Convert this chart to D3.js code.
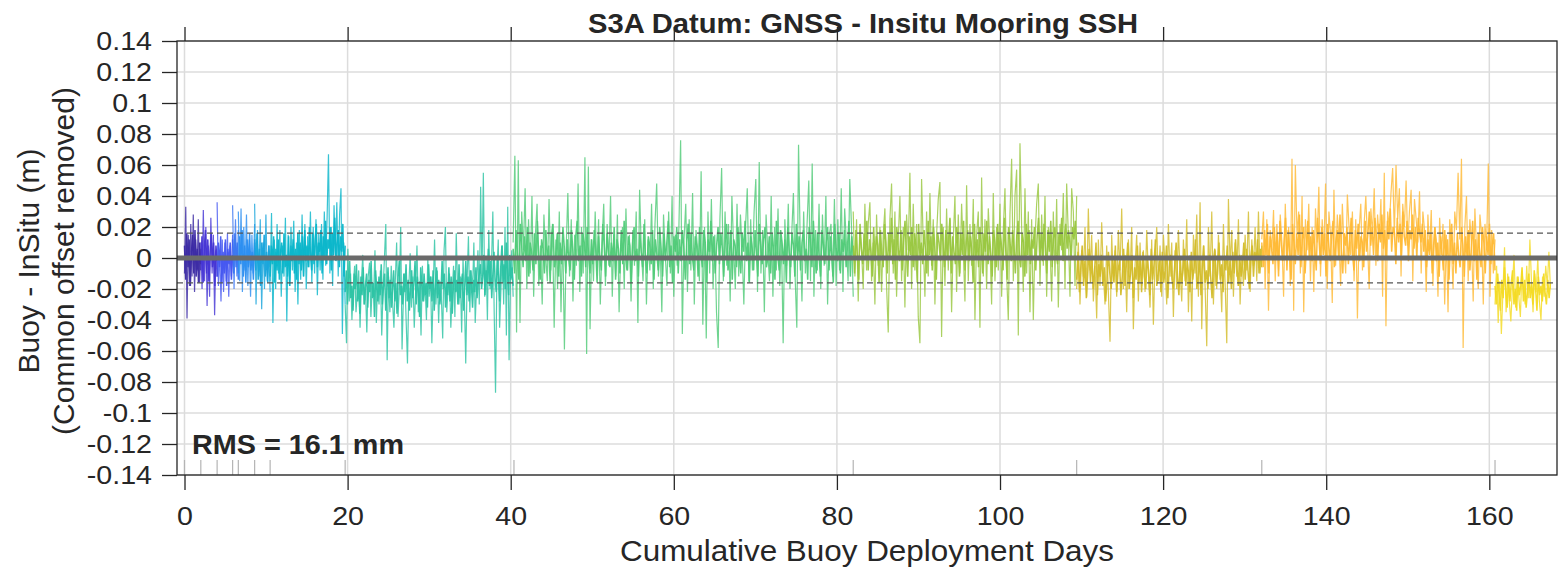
<!DOCTYPE html>
<html><head><meta charset="utf-8">
<script src="https://cdn.jsdelivr.net/npm/d3@7"></script>
<style>
body{margin:0;background:#fff;}
svg{display:block;font-family:"Liberation Sans",Arial,Helvetica,sans-serif;}
</style>
</head><body>
<svg id="chart" width="1559" height="569"></svg>
<script>
// ---------- DATA ----------
const titleText = "S3A Datum: GNSS - Insitu Mooring SSH";
const xLabelText = "Cumulative Buoy Deployment Days";
const yLabelLines = ["Buoy - InSitu (m)", "(Common offset removed)"];
const rmsText = "RMS = 16.1 mm";
const rmsMeters = 0.0161;

const xTicks = [0, 20, 40, 60, 80, 100, 120, 140, 160];
const xTickLabels = ["0", "20", "40", "60", "80", "100", "120", "140", "160"];
const yTicks = [-0.14, -0.12, -0.1, -0.08, -0.06, -0.04, -0.02, 0, 0.02, 0.04, 0.06, 0.08, 0.1, 0.12, 0.14];
const yTickLabels = ["-0.14", "-0.12", "-0.1", "-0.08", "-0.06", "-0.04", "-0.02", "0", "0.02", "0.04", "0.06", "0.08", "0.1", "0.12", "0.14"];

// deployment start / end (cumulative days)
const segStart = [0, 2.0, 4.0, 5.9, 6.6, 8.6, 10.5, 19.7, 40.3, 82.0, 109.4, 132.1, 160.7];
const segEnd   = [2.0, 4.0, 5.9, 6.6, 8.6, 10.5, 19.7, 40.3, 82.0, 109.4, 132.1, 160.7, 167.5];
const deployMarks = [0, 2.0, 4.0, 5.9, 6.6, 8.6, 10.5, 19.7, 40.4, 82.0, 109.4, 132.1, 160.7];

// residual peaks per deployment (mm), evenly sampled over each deployment
const seg01 = [-10, 33, -39, 15, -18, 22, -12, 28, -22, 12, -8, 25, -16, 6];
const seg02 = [10, -20, 31, -15, 20, -31, 8, -25, 26, -10, 15, -37, 5, -12];
const seg03 = [36, -18, 5, -28, 12, -22, 10, -15, 16, -25, 8, -12, 15];
const seg04 = [34, -20, 25, -12, 18];
const seg05 = [30, -15, 32, -22, 20, -8, 28, -18, 12, -25, 15, -10, 22];
const seg06 = [35, -30, 18, -12, 25, -33, 10, -20, 28, -15, 8, -22];
const seg07 = [-15, 29, -42, 12, -20, 22, -10, 18, -25, 8, -12, 26, -41, 15, -18, 20, -8, 24, -22, 10,
  -30, 18, -14, 28, -12, 22, -20, 14, -6, 30, -16, 20, -10, 25, -24, 16, -8, 22, -14, 30,
  -5, 26, 67, -10, 20, -18, 34, 2, 36, -12, 28, 45, -49, 10, -30];
const seg08 = [-30, -55, 6, -28, -10, -40, -18, -5, -35, -22,
  -8, -45, -15, 2, -30, -20, -48, -12, -3, -38,
  -18, -25, 5, -42, -15, -30, -8, -50, -20, 0,
  22, -66, -12, -35, -5, -28, -45, -15, 10, -38,
  -20, 20, -59, -25, -10, -40, -68, -18, 3, -32,
  -12, -45, -22, 8, -35, -15, -50, -5, -28, -18,
  -40, 0, -25, -12, -55, -20, 12, -30, -8, -42,
  -15, -25, -52, 5, 20, -35, -18, -10, -45, -22,
  -5, -38, 16, -20, -30, -12, -48, 0, -25, -68,
  -15, 14, -35, -8, -22, 10, -42, -18, 5, -30,
  46, -12, 55, -25, 0, -40, 18, -20, -5, 30,
  -35, -87, -10, 12, -45, -20, 8, -30, 20, -50,
  33, -66, -15, 5, -25];
const seg09 = [10, 66, -48, 63, -42, 30, 5, 45, -20, 25,
  -10, 40, -25, 15, 35, -18, 8, -30, 28, 2,
  -15, 38, -8, 22, -45, 12, -20, 30, -35, 18,
  -59, 5, 42, -12, 25, -28, 15, -5, 48, -22,
  20, -10, 65, -62, 59, -46, 12, -15, 30, -8,
  25, -30, 10, 35, -18, 22, -5, 40, -25, 15,
  -12, 28, -35, 8, 20, -20, 32, -8, 15, -28,
  18, -5, 30, -42, 44, 5, -15, 25, -30, 12,
  -8, 35, -20, 22, 48, -12, 10, -35, 28, 2,
  -18, 30, -10, 40, -25, 15, -5, 20, 76, -49,
  12, 35, -22, 25, -8, 42, -30, 18, 5, -15,
  56, -43, 20, -52, 30, -10, 38, -20, 15, -35,
  -58, 25, 58, -15, 30, -5, 22, -28, 40, 8,
  -20, 35, -12, 28, 5, -30, 20, 45, -15, 25,
  -8, 30, 51, -22, 62, -10, 18, -35, 28, 5,
  -15, 40, -25, 20, -8, 32, -18, 12, -55, 25,
  -5, 35, -20, 15, 42, -12, -45, 73, 10, -28,
  30, -10, 22, 50, -15, 61, -25, 18, -8, 35,
  -20, 28, -5, 40, -30, 15, 22, -12, 38, -18,
  25, -8, 45, -22, 32, 10, -15, 51, 20, -25];
const seg10 = [30, -12, 25, -28, 18, 5, -20, 35, -8, 22,
  36, -15, 10, -30, 28, -5, 20, -22, 15, 32,
  -18, -48, 25, 48, -10, 30, -25, 12, 40, -15,
  20, -32, 28, 5, 55, -20, 35, -8, 22, -38,
  -55, 51, 10, -25, 30, -12, 42, -5, 25, -30,
  15, 38, 49, -51, 20, -18, 32, -8, 25, -35,
  12, 40, -22, 28, -10, 35, 5, -28, 47, -15,
  22, -5, 38, -40, 15, 30, -45, 52, -12, 25,
  -20, 32, 8, -30, 42, -15, 20, -8, 35, -25,
  18, 45, -10, -40, 28, 64, -15, 40, 57, -50,
  74, 20, -22, 45, -10, 30, -35, 25, -40, 12,
  35, 48, -18, 28, -5, 40, -25, 20, 10, -28,
  30, -12, 38, -32, 22, 5, 42, -20, 48, 15,
  -25, 45, 30, -18, 40];
const seg11 = [-20, 10, -30, 5, -12, 20, -25, 32, -8, 15,
  -28, -5, -39, 12, -18, 23, -10, -30, 8, -22,
  -54, 15, -15, 5, -25, 18, -8, 32, -20, 2,
  -35, 12, -12, 20, -46, -5, 15, -28, 10, -18,
  5, -22, 18, -10, -32, 12, -43, 0, 20, -15,
  8, -25, 15, -5, -30, 22, -12, 10, -38, 5,
  -20, 18, -8, -28, 12, -15, 25, -35, 2, -41,
  15, -10, 28, -25, 36, -46, 8, -18, -57, 20,
  -12, 30, -30, 5, -20, 15, -8, -35, 22, -15,
  -55, 38, -5, 18, -25, 10, -12, 25, -30, 2,
  -18, 15, -8, 30, -22, 12, -5, 20, -15, 30,
  -10, 8];
const seg12 = [12, 30, -20, 25, -34, 18, 5, 31, -15, 22,
  -8, 28, 10, -25, 35, 0, 20, -18, 64, -34,
  60, 15, 30, -10, 40, -35, 25, 5, 35, -15,
  20, -22, 32, 10, 46, -12, 25, 5, 48, -20,
  30, 15, -29, 44, -5, 28, 12, -18, 35, 8,
  -10, 41, 20, 2, 30, -15, 25, -39, 18, 35,
  -8, 22, 40, 10, -20, 32, 15, 45, -5, 28,
  12, 38, -25, 55, -44, 30, 20, 42, 58, 15,
  60, 25, 45, -12, 35, 20, 50, 8, 30, 44,
  -15, 38, 25, 10, 43, -10, 30, 18, -22, 28,
  5, 31, -18, 20, 12, -25, 26, 2, 22, -30,
  15, -35, 25, 8, -20, 30, 18, 55, 12, 64,
  -58, 20, 40, -15, 25, 10, -28, 32, 5, -20,
  28, 15, -30, 22, 8, 61, -25, 18, -10, 12];
const seg13 = [-30, -5, -42, -15, -49, -22, 7, -35, -10, -28, -41, -18, 2, -32, -12, -25, -38, -8,
  -20, -30, -5, -26, 12, -15, -35, -10, -22, 0, -28, -40, -12, -25, -5, -18, 4, -20];

// dense core of each deployment (mm), evenly sampled
const core01 = [8, -14, 16, -6, 12, -18, 4, 15, -10, 18, -12, 6, -16, 10, -4];
const core02 = [-8, 14, -16, 6, 18, -10, 12, -15, 4, 16, -6, 10, -18, 8, -2];
const core03 = [-12, 10, -6, 14, -16, 4, -10, 12, -18, 6, -4, 10, -14, 2];
const core04 = [12, -10, 16, -6, 10, -14];
const core05 = [-10, 14, -4, 18, -12, 8, -16, 12, -6, 16, -8, 4, -14, 10];
const core06 = [12, -8, 16, -14, 6, -18, 10, -4, 15, -12, 4, -16, 8, -6];
const core07 = [-12, 8, -4, 14, -16, 6, -8, 12, -14, 4, 10, -10, 16, -6, 2, -12, 14, -18, 8, -2,
  12, -10, 6, -14, 16, -4, 10, -8, 14, -12, 18, -2, 8, -6, 20, 2, -8, 16, -4, 12,
  22, -6, 10, 4, 18, -10, 14, 0, 24, -4, 12, 6, 20, -8, 16, 2, 26, -2, 10, 18,
  -6, 14, 4, 22, -12, 8];
const core08 = [-22, -8, -30, -14, -2, -26, -18, -34, -10, -20,
  -4, -28, -16, -36, -12, -24, -6, -30, -18, -10,
  -32, -14, -22, -2, -26, -16, -38, -8, -20, -28,
  -12, -24, -4, -30, -18, -10, -34, -22, -6, -26,
  -14, -32, -20, -8, -28, -16, -36, -12, -2, -24,
  -18, -30, -10, -22, -4, -28, -14, -34, -20, -8,
  -26, -16, -2, -30, -12, -22, -38, -6, -18, -28,
  -10, -24, -16, -32, -4, -20, -12, -28, -8, -34,
  -18, -6, -26, -14, -30, -22, -2, -20, -10, -32,
  -16, -24, -6, -28, -12, -36, -18, -8, -22, -14,
  -30, -4, -26, -16, -10, -34, -20, -2, -24, -12,
  -28, -8, -18, -32, -14, -22, -6, -26, -16, -10,
  -4, -20, -12, 2, -24, -8, -16, 6, -18, -2,
  -26, -10, 4, -14, -22, 0, -12, -28, -6, 8,
  -16, -4, -20, 10, -10, -24, 2, -14, -6, -18];
const core09 = [6, -10, 18, 2, -14, 22, 8, -6, 14, -2,
  20, -12, 10, 4, -8, 16, -4, 24, 0, -14,
  12, 6, -10, 18, -2, 8, -16, 14, 22, -6,
  2, 16, -12, 10, -4, 20, 6, -10, 12, 0,
  -8, 18, 4, -14, 14, 24, -2, 8, -12, 16,
  10, -6, 20, 2, -10, 12, -4, 18, 6, -16,
  14, 0, -8, 22, 8, -12, 16, 4, -6, 10,
  -2, 20, -14, 12, 6, -10, 18, -4, 24, 2,
  -8, 14, 8, -16, 10, 20, -2, 6, -12, 16,
  4, -6, 22, 0, -10, 14, 8, -4, 18, -14,
  12, 2, -8, 20, 6, -12, 16, -2, 10, 24,
  -6, 8, -16, 14, 4, 20, -10, 12, -2, 18,
  6, -14, 10, 22, -4, 16, 0, -8, 14, 8,
  -12, 20, 2, -6, 18, 10, -16, 12, 4, 24,
  -2, 14, -10, 8, 20, -4, 16, 6, -12, 10,
  22, -8, 2, 18, -14, 12, 8, -6, 20, 0,
  -10, 16, 4, 24, -2, 10, -16, 14, 6, -8,
  18, 2, -12, 22, 8, -4, 12, 20, -6, 0,
  14, -10, 16, 6, -14, 24, 2, -8, 18, 10,
  -4, 12, -16, 20, 4, -6, 16, 8, -12, 22,
  0, 14, -8, 10, 18, -2, 6, -14, 20, 12,
  -6, 24, 4, -10, 16, 2, -12, 18, 8, -4,
  10, 20, -8, 14, 0, -16, 22, 6, -2, 16,
  -10, 12, 4, 18, -6, 8, 24, -12, 14, 2];
const core10 = [8, -10, 18, 2, -14, 22, 6, -4, 16, 0,
  24, -8, 12, 4, -12, 20, -2, 14, 8, -16,
  18, 2, -6, 22, 10, -10, 16, 0, 26, -4,
  12, -14, 20, 6, -2, 18, -8, 10, 24, 4,
  -12, 14, 2, 20, -6, 16, 8, -16, 22, 0,
  10, -4, 18, 6, -10, 24, 2, 14, -8, 20,
  4, -14, 16, 10, -2, 22, 8, -6, 18, 0,
  12, 26, -10, 14, 4, -4, 20, 6, -12, 16,
  2, 24, -8, 10, 18, -2, 14, 6, -16, 22,
  0, 12, -6, 20, 8, -10, 16, 4, 24, -4,
  14, 2, -12, 18, 10, -6, 22, 0, 16, 6,
  -8, 26, 4, -14, 20, 12, -2, 18, 8, -10,
  14, 24, 0, -6, 16, 10, -12, 22, 2, 18,
  -4, 12, 6, 20, -8, 14, 26, 0, 16, -2,
  22, 8, -10, 18, 4, 24, -6, 12, 20, 2,
  -4, 16, 8, 26, -2, 14, 22, 6, 18, 10,
  0, 20, 12, 24, 8];
const core11 = [-14, 4, -22, -6, 8, -18, -2, -26, -10, 6,
  -16, 0, -20, -8, 10, -24, -4, -12, 2, -18,
  -6, -28, -14, 4, -10, -20, 0, -16, 8, -22,
  -8, -2, -24, -12, 6, -18, -4, 10, -20, -10,
  2, -26, -6, -14, 8, -16, -2, -22, 4, -12,
  -20, 0, -8, -24, 6, -14, -4, 12, -18, -10,
  -2, -22, 4, -16, -8, 8, -26, -6, 2, -14,
  -20, -4, 10, -12, -24, 0, -16, -8, 6, -18,
  -2, -10, -22, 4, -14, -6, 12, -20, -12, 0,
  -24, -4, 8, -16, -8, -20, 2, -12, -26, -2,
  6, -18, -10, 10, -14, -4, -22, 0, -8, 8,
  -16, -2, -20, 4, -10, 12, -6, -18, 2, -12,
  -4, 10, -14, 6, -8, -20, 0, 8, -12, 4,
  -2, 12, -10, 6, -6];
const core12 = [10, -6, 18, 2, 22, -10, 14, 6, -4, 20,
  0, 16, -12, 24, 8, -2, 12, 26, -8, 18,
  4, -14, 22, 10, -4, 16, 2, 28, -6, 12,
  20, -10, 8, 24, 0, 14, -2, 18, 6, -8,
  26, 12, -4, 20, 2, 16, -12, 22, 8, -2,
  14, 24, -6, 10, 18, 0, 28, 4, -10, 16,
  8, 20, -4, 12, 26, 2, -8, 18, 6, 22,
  -2, 14, 10, -6, 24, 4, 16, 30,
  8, 20, 2, 26, 14, -2, 22, 10, 28, 6,
  18, 0, 24, 12, 32, 4, 20, 16, -4, 26,
  10, 22, 2, 30, 14, 8, 24, -2, 18, 12,
  28, 6, 20, 0, 26, 16, 10, 22, 4, 18,
  -6, 12, 2, 16, -10, 8, 20, -2, 10, -12,
  14, 4, -8, 18, 0, 12, -14, 6, 22, -4,
  10, -10, 16, 2, -6, 20, 8, -12, 14, 0,
  18, -8, 6, 24, -2, 12, -14, 16, 4, -6,
  20, 10, -10, 14, 2, 22, -4, 8, 16, -8];
const core13 = [-18, -30, -10, -24, -34, -14, -26, -6, -22, -32, -12, -28, -16, -8, -30, -20, -34, -12, -24, -18,
  -6, -28, -14, -32, -22, -10, -26, -16, -30, -8, -20, -34, -12, -24, -18, -28, -10, -22, -30, -14, -26, -16];

const segValues = [seg01, seg02, seg03, seg04, seg05, seg06, seg07, seg08, seg09, seg10, seg11, seg12, seg13];
const coreValues = [core01, core02, core03, core04, core05, core06, core07, core08, core09, core10, core11, core12, core13];

// ---------- STYLE ----------
const segColors = ["#3a29a4", "#4434d4", "#4457f0", "#3a76f2", "#2b8ef0", "#19a5dc", "#0ab6ca",
  "#2cc3a4", "#50cb78", "#99c740", "#d3bc29", "#ffb935", "#f4db22"];

const M = {left: 177, right: 1557, top: 41, bottom: 475};
const svg = d3.select("#chart");
const x = d3.scaleLinear().domain([-0.92, 168.3]).range([M.left, M.right]);
const y = d3.scaleLinear().domain([-0.14, 0.14]).range([M.bottom, M.top]);
const textColor = "#262626";
const axisColor = "#262626";
const stretch = (sel, f) => sel.each(function () {
  const w = this.getComputedTextLength();
  d3.select(this).attr("textLength", w * f).attr("lengthAdjust", "spacingAndGlyphs");
});

// grid
const grid = svg.append("g");
grid.selectAll("line.gx").data(xTicks).join("line")
  .attr("x1", d => x(d)).attr("x2", d => x(d)).attr("y1", M.top).attr("y2", M.bottom)
  .attr("stroke", "#dcdcdc").attr("stroke-width", 1.5);
grid.selectAll("line.gy").data(yTicks).join("line")
  .attr("x1", M.left).attr("x2", M.right).attr("y1", d => y(d)).attr("y2", d => y(d))
  .attr("stroke", "#dcdcdc").attr("stroke-width", 1.5);

// data
const line = d3.line().x(d => x(d[0])).y(d => y(d[1] / 1000));
const dataG = svg.append("g");
function drawSeries(vals, k, width, op) {
  const n = vals.length, s = segStart[k], e = segEnd[k];
  const pts = vals.map((v, i) => [s + (e - s) * i / (n - 1), v]);
  dataG.append("path").attr("d", line(pts)).attr("fill", "none")
    .attr("stroke", segColors[k]).attr("stroke-width", width).attr("stroke-opacity", op);
}
coreValues.forEach((vals, k) => drawSeries(vals, k, 1.5, 0.95));
segValues.forEach((vals, k) => drawSeries(vals, k, 1.2, 0.82));

// zero line and RMS lines
svg.append("line").attr("x1", M.left).attr("x2", M.right).attr("y1", y(0)).attr("y2", y(0))
  .attr("stroke", "#6a6a6a").attr("stroke-width", 5);
[rmsMeters, -rmsMeters].forEach(v => {
  svg.append("line").attr("x1", M.left).attr("x2", M.right).attr("y1", y(v)).attr("y2", y(v))
    .attr("stroke", "#555").attr("stroke-width", 1.2).attr("stroke-dasharray", "6,4");
});

// deployment marks
svg.append("g").selectAll("line").data(deployMarks).join("line")
  .attr("x1", d => x(d)).attr("x2", d => x(d)).attr("y1", M.bottom - 15).attr("y2", M.bottom)
  .attr("stroke", "#b4b4b4").attr("stroke-width", 1.2);

// axes
const yAxis = d3.axisLeft(y).tickValues(yTicks).tickFormat((d, i) => yTickLabels[i]).tickSize(15).tickPadding(10);
const gy = svg.append("g").attr("transform", `translate(${M.left},0)`).call(yAxis);
const xAxis = d3.axisBottom(x).tickValues(xTicks).tickFormat((d, i) => xTickLabels[i]).tickSize(15).tickPadding(17);
const gx = svg.append("g").attr("transform", `translate(0,${M.bottom})`).call(xAxis);
const xAxisTop = d3.axisTop(x).tickValues(xTicks).tickFormat("").tickSize(14);
const gxt = svg.append("g").attr("transform", `translate(0,${M.top})`).call(xAxisTop);
[gy, gx, gxt].forEach(g => {
  g.select(".domain").remove();
  g.selectAll(".tick line").attr("stroke", axisColor).attr("stroke-width", 1.3);
  g.selectAll(".tick text").attr("fill", textColor).style("font-size", "26px")
    .style("font-family", '"Liberation Sans", Arial, sans-serif');
});
stretch(gy.selectAll(".tick text"), 1.1);
stretch(gx.selectAll(".tick text"), 1.1);
// box
svg.append("rect").attr("x", M.left).attr("y", M.top).attr("width", M.right - M.left).attr("height", M.bottom - M.top)
  .attr("fill", "none").attr("stroke", axisColor).attr("stroke-width", 1.3);

// texts
svg.append("text").attr("x", 863).attr("y", 33).attr("text-anchor", "middle")
  .attr("fill", textColor).style("font-size", "27px").style("font-weight", "bold")
  .attr("textLength", 550).attr("lengthAdjust", "spacingAndGlyphs").text(titleText);
svg.append("text").attr("x", 867).attr("y", 561).attr("text-anchor", "middle")
  .attr("fill", textColor).style("font-size", "30px")
  .attr("textLength", 494).attr("lengthAdjust", "spacingAndGlyphs").text(xLabelText);
const yl = svg.append("text").attr("transform", `translate(0,261) rotate(-90)`)
  .attr("text-anchor", "middle").attr("fill", textColor).style("font-size", "30px");
yl.append("tspan").attr("x", 0).attr("y", 39).text(yLabelLines[0]);
yl.append("tspan").attr("x", 0).attr("y", 74).text(yLabelLines[1]);
svg.append("text").attr("x", 192).attr("y", 454).attr("fill", textColor)
  .style("font-size", "28px").style("font-weight", "bold")
  .attr("textLength", 212).attr("lengthAdjust", "spacingAndGlyphs").text(rmsText);
</script>
</body></html>
